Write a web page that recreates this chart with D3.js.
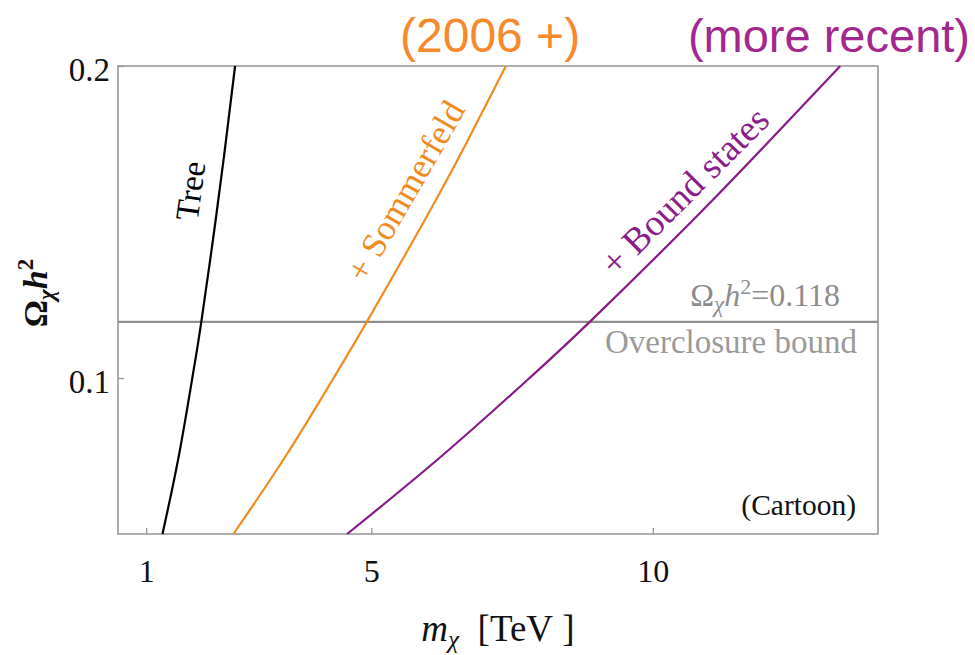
<!DOCTYPE html>
<html>
<head>
<meta charset="utf-8">
<script src="https://cdn.jsdelivr.net/npm/d3@7"></script>
<style>
  html, body { margin: 0; padding: 0; background: #fff; }
  svg { display: block; }
</style>
</head>
<body>
<div id="chart"></div>
<script>
// relic density levels (y) and the mass (x, TeV) each curve reaches there
var omegaLevels = [0.05, 0.075, 0.1, 0.118, 0.15, 0.175, 0.2];
var massTree = [1.29, 1.58, 1.82, 1.98, 2.23, 2.41, 2.58];
var massSommerfeld = [2.55, 3.48, 4.33, 4.92, 5.93, 6.68, 7.39];
var massBound = [4.57, 6.25, 7.81, 8.88, 10.68, 12.02, 13.33];

var xTicks = [1, 5, 10];
var yTicks = [0.1, 0.2];
var omegaBound = 0.118;

var width = 975, height = 655;
var serif = "Liberation Serif, DejaVu Serif, serif";
var sans = "Liberation Sans, Arial, sans-serif";

var svg = d3.select("#chart").append("svg")
  .attr("width", width)
  .attr("height", height);

// plot box
var x = d3.scaleLinear().domain([0.5, 14]).range([118, 878]);
var y = d3.scaleLinear().domain([0.05, 0.2]).range([534, 66]);

// frame
svg.append("rect")
  .attr("x", x.range()[0])
  .attr("y", y.range()[1])
  .attr("width", x.range()[1] - x.range()[0])
  .attr("height", y.range()[0] - y.range()[1])
  .attr("fill", "none")
  .attr("stroke", "#9a9a9a")
  .attr("stroke-width", 1.6);

// x axis
var gx = svg.append("g")
  .attr("transform", "translate(0," + y.range()[0] + ")")
  .call(d3.axisBottom(x).tickValues(xTicks).tickSize(-6).tickPadding(25));
gx.select(".domain").remove();
gx.selectAll(".tick line").attr("stroke", "#9a9a9a").attr("stroke-width", 1.4);
gx.selectAll(".tick text")
  .style("font-family", serif).style("font-size", "32px").attr("fill", "#111");

// y axis
var gy = svg.append("g")
  .attr("transform", "translate(" + x.range()[0] + ",0)")
  .call(d3.axisLeft(y).tickValues(yTicks).tickFormat(d3.format(".1f")).tickSize(-6).tickPadding(8));
gy.select(".domain").remove();
gy.selectAll(".tick line").attr("stroke", "#9a9a9a").attr("stroke-width", 1.4);
gy.selectAll(".tick text")
  .style("font-family", serif).style("font-size", "33px").attr("fill", "#111")
  .attr("dy", "0.45em");

// overclosure line
svg.append("line")
  .attr("x1", x.range()[0]).attr("x2", x.range()[1])
  .attr("y1", y(omegaBound)).attr("y2", y(omegaBound))
  .attr("stroke", "#8f8f8f")
  .attr("stroke-width", 2.2);

// curves
var line = d3.line()
  .x(function(d) { return x(d[0]); })
  .y(function(d) { return y(d[1]); })
  .curve(d3.curveNatural);

var curves = [
  { mass: massTree, color: "#000000" },
  { mass: massSommerfeld, color: "#f08c1e" },
  { mass: massBound, color: "#861a88" }
];

curves.forEach(function(c) {
  var pts = c.mass.map(function(m, i) { return [m, omegaLevels[i]]; });
  svg.append("path")
    .datum(pts)
    .attr("fill", "none")
    .attr("stroke", c.color)
    .attr("stroke-width", 2.2)
    .attr("d", line);
});

// curve labels, rotated along the lines
function curveLabel(txt, m, om, angle, size, color) {
  svg.append("text")
    .attr("transform", "translate(" + x(m) + "," + y(om) + ") rotate(" + angle + ")")
    .attr("text-anchor", "middle")
    .attr("dy", "0.35em")
    .style("font-family", serif)
    .style("font-size", size + "px")
    .attr("fill", color)
    .text(txt);
}
curveLabel("Tree", 1.78, 0.16, -82, 33, "#000");
curveLabel("+ Sommerfeld", 5.6, 0.16, -60, 35, "#f08c1e");
curveLabel("+ Bound states", 10.56, 0.16, -45, 37, "#8a1c8c");

// overclosure annotations
var om = svg.append("text")
  .attr("x", 840).attr("y", y(omegaBound) - 16)
  .attr("text-anchor", "end")
  .style("font-family", serif).style("font-size", "32px")
  .attr("fill", "#8c8c8c");
om.append("tspan").text("Ω");
om.append("tspan").style("font-style", "italic").style("font-size", "23px").attr("dy", 6).text("χ");
om.append("tspan").style("font-style", "italic").attr("dy", -6).text("h");
om.append("tspan").style("font-size", "22px").attr("dy", -12).text("2");
om.append("tspan").attr("dy", 12).text("=0.118");

svg.append("text")
  .attr("x", 857).attr("y", y(omegaBound) + 31)
  .attr("text-anchor", "end")
  .style("font-family", serif).style("font-size", "33px")
  .attr("fill", "#9a9a9a")
  .text("Overclosure bound");

svg.append("text")
  .attr("x", 856).attr("y", 515)
  .attr("text-anchor", "end")
  .style("font-family", serif).style("font-size", "29.5px")
  .attr("fill", "#111")
  .text("(Cartoon)");

// axis titles
var xt = svg.append("text")
  .attr("x", 498).attr("y", 641)
  .attr("text-anchor", "middle")
  .style("font-family", serif).style("font-size", "37px")
  .attr("fill", "#111");
xt.append("tspan").style("font-style", "italic").text("m");
xt.append("tspan").style("font-style", "italic").style("font-size", "25px").attr("dy", 7).text("χ");
xt.append("tspan").attr("dy", -7).text("\u00a0\u00a0[TeV\u00a0]");

var yt = svg.append("text")
  .attr("transform", "translate(47,293) rotate(-90)")
  .attr("text-anchor", "middle")
  .style("font-family", serif).style("font-size", "34px")
  .style("font-weight", "bold")
  .attr("fill", "#111");
yt.append("tspan").text("Ω");
yt.append("tspan").style("font-style", "italic").style("font-size", "23px").attr("dy", 7).text("χ");
yt.append("tspan").style("font-style", "italic").attr("dy", -7).text("h");
yt.append("tspan").style("font-size", "23px").attr("dy", -14).text("2");

// era annotations above the plot
svg.append("text")
  .attr("x", 400).attr("y", 52)
  .style("font-family", sans).style("font-size", "48px")
  .attr("fill", "#f7892d")
  .text("(2006 +)");

svg.append("text")
  .attr("x", 970).attr("y", 52)
  .attr("text-anchor", "end")
  .style("font-family", sans).style("font-size", "47px")
  .attr("fill", "#a2288f")
  .text("(more recent)");
</script>
</body>
</html>
